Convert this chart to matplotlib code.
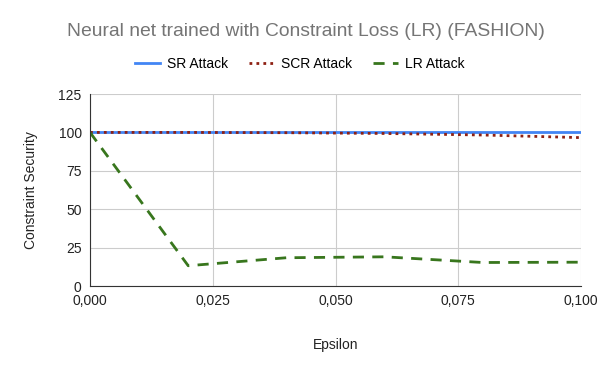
import matplotlib.pyplot as plt
from matplotlib.ticker import FuncFormatter

# data
epsilon = [0.0, 0.02, 0.04, 0.06, 0.08, 0.1]
sr_attack = [100, 100, 100, 100, 100, 100]
scr_attack = [100, 100, 99.8, 99.3, 98.3, 96.6]
lr_attack = [100, 13.2, 18.4, 19.0, 15.3, 15.5]

plt.rcParams["font.family"] = ["Liberation Sans", "DejaVu Sans"]

fig = plt.figure(figsize=(6, 3.71), dpi=100)
ax = fig.add_axes([90 / 600, 85 / 371, 491 / 600, 192 / 371])

ax.plot(epsilon, sr_attack, color="#4285F4", lw=2, label="SR Attack")
ax.plot(epsilon, scr_attack, color="#8E2013", lw=2, ls=(0, (1, 1.5)), label="SCR Attack")
ax.plot(epsilon, lr_attack, color="#38761D", lw=2, ls=(0, (4, 3)), label="LR Attack")

ax.set_xlim(0, 0.1)
ax.set_ylim(0, 125)
ax.set_xticks([0, 0.025, 0.05, 0.075, 0.1])
ax.set_yticks([0, 25, 50, 75, 100, 125])
ax.xaxis.set_major_formatter(FuncFormatter(lambda v, p: f"{v:.3f}".replace(".", ",")))
ax.grid(True, color="#cccccc", lw=0.8)
ax.tick_params(length=0, labelsize=10, colors="#222222", pad=6)
for s in ["top", "right"]:
    ax.spines[s].set_visible(False)
ax.spines["left"].set_color("#333333")
ax.spines["bottom"].set_color("#333333")

ax.set_xlabel("Epsilon", fontsize=10, color="#222222", labelpad=21)
ax.set_ylabel("Constraint Security", fontsize=10, color="#222222", labelpad=15)

fig.text(0.51, 1 - 32 / 371, "Neural net trained with Constraint Loss (LR) (FASHION)",
         ha="center", va="center", fontsize=13.9, color="#757575")
fig.legend(loc="center", bbox_to_anchor=(0.5, 1 - 64 / 371), ncol=3, frameon=False,
           fontsize=10, handlelength=1.8, columnspacing=1.5, handletextpad=0.5)

fig.savefig("out.png", dpi=100)
